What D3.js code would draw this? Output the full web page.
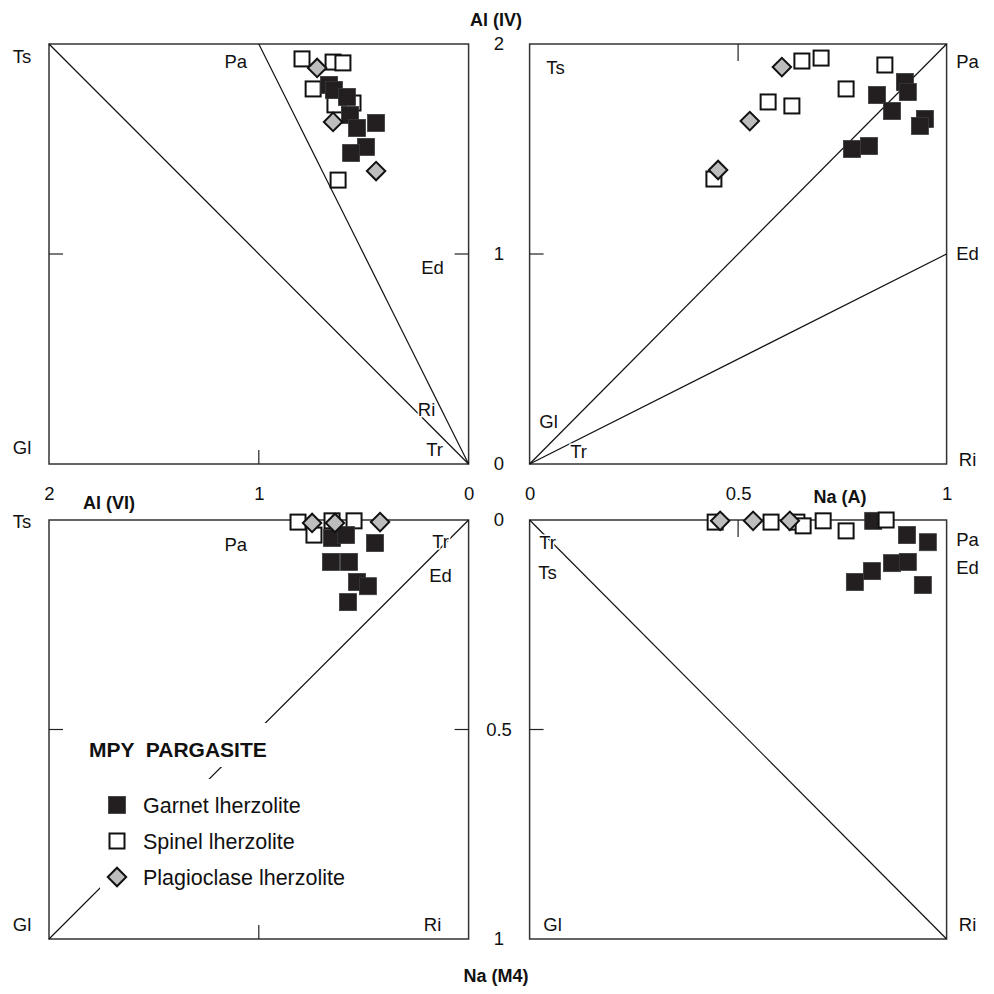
<!DOCTYPE html>
<html><head><meta charset="utf-8">
<script src="https://cdn.jsdelivr.net/npm/d3@7"></script>
<style>
body{margin:0;background:#fff}
svg{display:block}
text{font-family:"Liberation Sans",Arial,Helvetica,sans-serif;fill:#111}
</style>
</head><body>
<svg id="chart" width="994" height="994"></svg>
<script>
// ---------------- DATA ----------------
// Tick values
const al4Ticks = [0, 1, 2];
const al6Ticks = [2, 1, 0];
const naATicks = [0, 0.5, 1];
const naM4Ticks = [0, 0.5, 1];

// Axis titles
const titleAl4 = "Al (IV)";
const titleAl6 = "Al (VI)";
const titleNaA = "Na (A)";
const titleNaM4 = "Na (M4)";

// Legend
const legendTitle = "MPY  PARGASITE";
const seriesNames = ["Garnet lherzolite", "Spinel lherzolite", "Plagioclase lherzolite"];

// Top-left panel: [Al(VI), Al(IV)]
const garnetTL = [[0.665,1.805],[0.642,1.781],[0.580,1.748],[0.565,1.662],[0.532,1.600],[0.441,1.624],[0.489,1.510],[0.560,1.481]];
const spinelTL = [[0.794,1.929],[0.646,1.914],[0.599,1.910],[0.741,1.786],[0.637,1.710],[0.551,1.719],[0.622,1.352]];
const plagTL   = [[0.722,1.886],[0.646,1.629],[0.441,1.395]];

// Top-right panel: [Na(A), Al(IV)]
const garnetTR = [[0.900,1.819],[0.907,1.771],[0.833,1.757],[0.869,1.681],[0.948,1.643],[0.936,1.610],[0.814,1.514],[0.773,1.500]];
const spinelTR = [[0.653,1.919],[0.699,1.933],[0.852,1.900],[0.759,1.786],[0.572,1.724],[0.629,1.705],[0.442,1.357]];
const plagTR   = [[0.605,1.890],[0.528,1.633],[0.452,1.400]];

// Bottom-left panel: [Al(VI), Na(M4)]
const garnetBL = [[0.651,0.043],[0.584,0.036],[0.446,0.055],[0.656,0.100],[0.570,0.100],[0.532,0.148],[0.480,0.158],[0.575,0.196]];
const spinelBL = [[0.813,0.005],[0.737,0.036],[0.651,0.002],[0.546,0.002]];
const plagBL   = [[0.746,0.007],[0.637,0.007],[0.422,0.005]];

// Bottom-right panel: [Na(A), Na(M4)]
const garnetBR = [[0.824,0.002],[0.905,0.036],[0.955,0.053],[0.869,0.103],[0.907,0.100],[0.821,0.122],[0.780,0.148],[0.943,0.155]];
const spinelBR = [[0.445,0.005],[0.579,0.005],[0.641,0.005],[0.656,0.014],[0.704,0.002],[0.759,0.026],[0.855,0.000]];
const plagBR   = [[0.457,0.002],[0.536,0.002],[0.624,0.002]];

// End-member compositions (vertices) per panel
const endTL = {Ts:[2,2], Pa:[1,2], Ed:[0,1], Ri:[0,0], Tr:[0,0], Gl:[2,0]};
const endTR = {Ts:[0,2], Pa:[1,2], Ed:[1,1], Ri:[1,0], Tr:[0,0], Gl:[0,0]};
const endBL = {Ts:[2,0], Pa:[1,0], Tr:[0,0], Ed:[0,0], Gl:[2,1], Ri:[0,1]};
const endBR = {Tr:[0,0], Ts:[0,0], Pa:[1,0], Ed:[1,0], Gl:[0,1], Ri:[1,1]};

// ---------------- DRAW ----------------
const svg = d3.select("#chart");

const L = [49, 468.6], R = [529.6, 946.6], T = [44, 464], B = [520, 939];

const xAl6L = d3.scaleLinear().domain([2, 0]).range(L);
const xNaR  = d3.scaleLinear().domain([0, 1]).range(R);
const yAl4T = d3.scaleLinear().domain([0, 2]).range([T[1], T[0]]);
const yNaM4B = d3.scaleLinear().domain([0, 1]).range(B);

const panels = [
  {x:xAl6L, y:yAl4T, garnet:garnetTL, spinel:spinelTL, plag:plagTL, order:["spinel","garnet","plag"]},
  {x:xNaR,  y:yAl4T, garnet:garnetTR, spinel:spinelTR, plag:plagTR, order:["spinel","garnet","plag"]},
  {x:xAl6L, y:yNaM4B, garnet:garnetBL, spinel:spinelBL, plag:plagBL, order:["spinel","garnet","plag"]},
  {x:xNaR,  y:yNaM4B, garnet:garnetBR, spinel:spinelBR, plag:plagBR, order:["garnet","spinel","plag"]}
];

const lineStyle = s => s.attr("stroke","#111").attr("stroke-width",1.2).attr("fill","none");

function seg(p, a, b){
  svg.append("line")
    .attr("x1", p.x(a[0])).attr("y1", p.y(a[1]))
    .attr("x2", p.x(b[0])).attr("y2", p.y(b[1]))
    .call(lineStyle);
}

// frames
panels.forEach(p => {
  const [x0,x1] = d3.extent(p.x.range());
  const [y0,y1] = d3.extent(p.y.range());
  svg.append("rect").attr("x",x0).attr("y",y0).attr("width",x1-x0).attr("height",y1-y0)
    .attr("fill","none").attr("stroke","#333").attr("stroke-width",1.5);
});

// classification lines
seg(panels[0], endTL.Ts, endTL.Tr);
seg(panels[0], endTL.Pa, endTL.Tr);
seg(panels[1], endTR.Tr, endTR.Pa);
seg(panels[1], endTR.Tr, endTR.Ed);
seg(panels[2], endBL.Gl, endBL.Tr);
seg(panels[3], endBR.Tr, endBR.Ri);

// inner ticks
function tick(x1,y1,x2,y2){
  svg.append("line").attr("x1",x1).attr("y1",y1).attr("x2",x2).attr("y2",y2)
    .attr("stroke","#222").attr("stroke-width",1.2);
}
const tl = 14;
// top-left
tick(xAl6L(1), T[1], xAl6L(1), T[1]-tl);
tick(L[0], yAl4T(1), L[0]+tl, yAl4T(1));
tick(L[1], yAl4T(1), L[1]-tl, yAl4T(1));
// top-right
tick(xNaR(0.5), T[0], xNaR(0.5), T[0]+17);
tick(R[0], yAl4T(1), R[0]+tl, yAl4T(1));
// bottom-left
tick(xAl6L(1), B[1], xAl6L(1), B[1]-tl);
tick(L[0], yNaM4B(0.5), L[0]+tl, yNaM4B(0.5));
tick(L[1], yNaM4B(0.5), L[1]-tl, yNaM4B(0.5));
// bottom-right
tick(xNaR(0.5), B[0], xNaR(0.5), B[0]+17);
tick(R[0], yNaM4B(0.5), R[0]+tl, yNaM4B(0.5));

// legend masks over the Gl-Tr line
svg.append("rect").attr("x",85).attr("y",723).attr("width",186).attr("height",44).attr("fill","#fff");
svg.append("rect").attr("x",100).attr("y",779).attr("width",270).attr("height",114).attr("fill","#fff");

// tick labels via d3 axes
const fmt = d => String(d);
function styleAxis(g){
  g.select(".domain").remove();
  g.selectAll("text").attr("font-size",18.5).attr("fill","#111")
    .style("font-family",'"Liberation Sans",Arial,sans-serif');
}
svg.append("g").attr("transform","translate(0,487)")
  .call(d3.axisBottom(xAl6L).tickValues(al6Ticks).tickFormat(fmt).tickSize(0).tickPadding(0)).call(styleAxis);
svg.append("g").attr("transform","translate(0,487)")
  .call(d3.axisBottom(xNaR).tickValues(naATicks).tickFormat(fmt).tickSize(0).tickPadding(0)).call(styleAxis);
svg.append("g").attr("transform","translate(499,0)")
  .call(d3.axisRight(yAl4T).tickValues(al4Ticks).tickFormat(fmt).tickSize(0).tickPadding(0)).call(styleAxis)
  .selectAll("text").attr("text-anchor","middle");
svg.append("g").attr("transform","translate(499,0)")
  .call(d3.axisRight(yNaM4B).tickValues(naM4Ticks).tickFormat(fmt).tickSize(0).tickPadding(0)).call(styleAxis)
  .selectAll("text").attr("text-anchor","middle");

// axis titles
function title(t, x, y){
  svg.append("text").attr("x",x).attr("y",y).attr("text-anchor","middle").attr("dy","0.35em")
    .attr("font-size",18).attr("font-weight","bold").text(t);
}
title(titleAl4, 496, 20);
title(titleAl6, 109, 503);
title(titleNaA, 840, 497);
title(titleNaM4, 496, 976);

// vertex labels (anchored on end-member positions with offsets)
function vlabel(p, name, pos, dx, dy, anchor){
  svg.append("text").attr("x", p.x(pos[0]) + dx).attr("y", p.y(pos[1]) + dy)
    .attr("text-anchor", anchor || "middle").attr("dy","0.35em")
    .attr("font-size",18.5)
    .attr("stroke","#fff").attr("stroke-width",3).attr("paint-order","stroke")
    .text(name);
}
const P0=panels[0], P1=panels[1], P2=panels[2], P3=panels[3];
vlabel(P0,"Ts",endTL.Ts,-27,13);
vlabel(P0,"Pa",endTL.Pa,-23,18);
vlabel(P0,"Ed",endTL.Ed,-36,14);
vlabel(P0,"Ri",endTL.Ri,-42,-54);
vlabel(P0,"Tr",endTL.Tr,-34,-14);
vlabel(P0,"Gl",endTL.Gl,-27,-16);

vlabel(P1,"Ts",endTR.Ts,26,24);
vlabel(P1,"Pa",endTR.Pa,21,18);
vlabel(P1,"Ed",endTR.Ed,21,0);
vlabel(P1,"Ri",endTR.Ri,21,-4);
vlabel(P1,"Gl",endTR.Gl,19,-42);
vlabel(P1,"Tr",endTR.Tr,49,-12);

vlabel(P2,"Ts",endBL.Ts,-27,2);
vlabel(P2,"Pa",endBL.Pa,-23,25);
vlabel(P2,"Tr",endBL.Tr,-28,22);
vlabel(P2,"Ed",endBL.Ed,-28,56);
vlabel(P2,"Gl",endBL.Gl,-27,-14);
vlabel(P2,"Ri",endBL.Ri,-36,-14);

vlabel(P3,"Tr",endBR.Tr,18,23);
vlabel(P3,"Ts",endBR.Ts,18,53);
vlabel(P3,"Pa",endBR.Pa,21,20);
vlabel(P3,"Ed",endBR.Ed,21,48);
vlabel(P3,"Gl",endBR.Gl,23,-14);
vlabel(P3,"Ri",endBR.Ri,21,-14);

// markers
const diamond = d3.symbol().type(d3.symbolSquare).size(170);
function drawGroup(p, key, data){
  const g = svg.append("g");
  if (key === "garnet"){
    g.selectAll("rect").data(data).join("rect")
      .attr("x", d => p.x(d[0]) - 8.5).attr("y", d => p.y(d[1]) - 8.5)
      .attr("width",17).attr("height",17)
      .attr("fill","#231f20").attr("stroke","#3a3a3a").attr("stroke-width",0.8);
  } else if (key === "spinel"){
    g.selectAll("rect").data(data).join("rect")
      .attr("x", d => p.x(d[0]) - 7.5).attr("y", d => p.y(d[1]) - 7.5)
      .attr("width",15).attr("height",15)
      .attr("fill","#fff").attr("stroke","#111").attr("stroke-width",2);
  } else {
    g.selectAll("path").data(data).join("path")
      .attr("d", diamond)
      .attr("transform", d => `translate(${p.x(d[0])},${p.y(d[1])}) rotate(45)`)
      .attr("fill","#bdbdbd").attr("stroke","#111").attr("stroke-width",2);
  }
}
panels.forEach(p => p.order.forEach(k => drawGroup(p, k, p[k])));

// legend
svg.append("text").attr("x",89).attr("y",750).attr("dy","0.35em")
  .attr("font-size",21).attr("font-weight","bold").style("white-space","pre").text(legendTitle);
const legY = [805, 841, 877];
const legendG = svg.append("g");
legendG.append("rect").attr("x",108.5).attr("y",legY[0]-8.5).attr("width",17).attr("height",17)
  .attr("fill","#231f20").attr("stroke","#3a3a3a").attr("stroke-width",0.8);
legendG.append("rect").attr("x",109.5).attr("y",legY[1]-7.5).attr("width",15).attr("height",15)
  .attr("fill","#fff").attr("stroke","#111").attr("stroke-width",2);
legendG.append("path").attr("d",diamond).attr("transform",`translate(117,${legY[2]}) rotate(45)`)
  .attr("fill","#bdbdbd").attr("stroke","#111").attr("stroke-width",2);
legendG.selectAll("text.item").data(seriesNames).join("text").attr("class","item")
  .attr("x",143).attr("y",(d,i)=>legY[i]).attr("dy","0.35em").attr("font-size",21.5).text(d=>d);
</script>
</body></html>
